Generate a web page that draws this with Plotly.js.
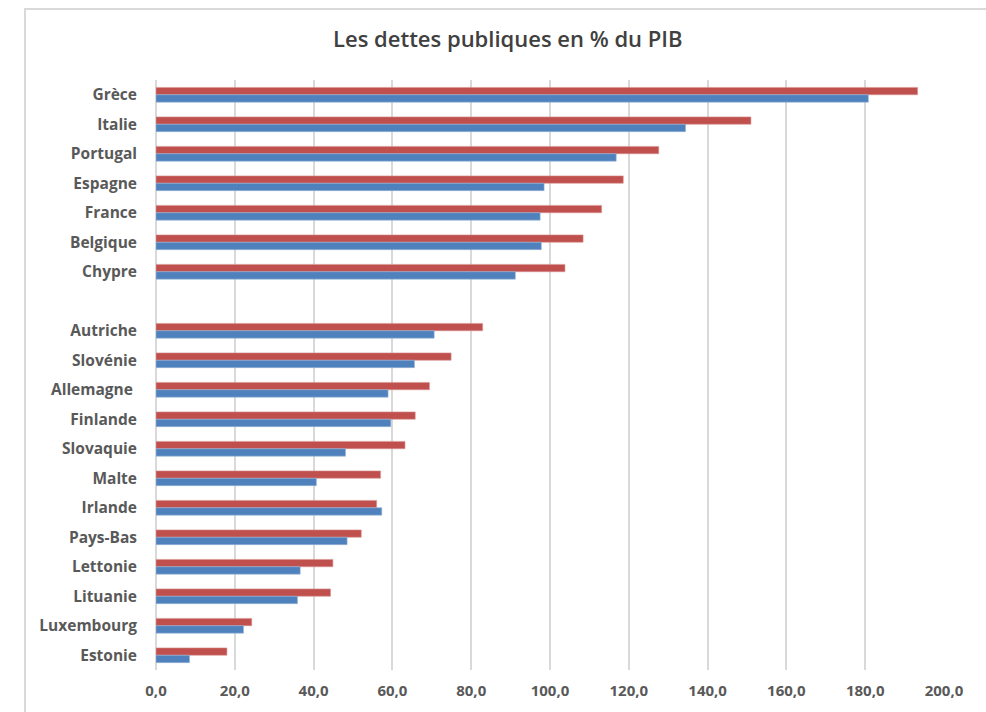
<!DOCTYPE html>
<html>
<head>
<meta charset="utf-8">
<script src="https://cdn.plot.ly/plotly-3.0.1.min.js"></script>
<style>
  html, body { margin: 0; padding: 0; background: #ffffff; overflow: hidden; }
  #frame { position: absolute; left: 24px; top: 8px; width: 1000px; height: 760px;
           border-left: 2px solid #d9d9d9; border-top: 2px solid #d9d9d9; box-sizing: border-box; }
  #chart { position: absolute; left: 0; top: 0; width: 986px; height: 712px; }
</style>
</head>
<body>
<div id="frame"></div>
<div id="chart"></div>
<script>
// Categories (top to bottom); " " is the empty separator row
const countries = ["Grèce", "Italie", "Portugal", "Espagne", "France", "Belgique", "Chypre", " ",
  "Autriche", "Slovénie", "Allemagne ", "Finlande", "Slovaquie", "Malte", "Irlande",
  "Pays-Bas", "Lettonie", "Lituanie", "Luxembourg", "Estonie"];

// Red series (upper bar of each pair)
const redValues = [193.3, 151.0, 127.6, 118.6, 113.1, 108.4, 103.8, null,
  82.9, 74.9, 69.4, 65.8, 63.2, 57.0, 56.0, 52.1, 44.9, 44.3, 24.3, 18.0];

// Blue series (lower bar of each pair)
const blueValues = [180.8, 134.4, 116.8, 98.5, 97.5, 97.8, 91.2, null,
  70.6, 65.6, 58.9, 59.6, 48.1, 40.7, 57.3, 48.5, 36.6, 35.9, 22.2, 8.5];

const xTicks = [0, 20, 40, 60, 80, 100, 120, 140, 160, 180, 200];

const traces = [
  { type: "bar", orientation: "h", name: "red", y: countries, x: redValues,
    marker: { color: "#c0504d", line: { color: "#d99694", width: 0.6 } }, hoverinfo: "x+y" },
  { type: "bar", orientation: "h", name: "blue", y: countries, x: blueValues,
    marker: { color: "#4f81bd", line: { color: "#95b3d7", width: 0.6 } }, hoverinfo: "x+y" }
];

const fontFam = "'Open Sans', Lato, sans-serif";

const layout = {
  width: 986, height: 712,
  paper_bgcolor: "rgba(0,0,0,0)", plot_bgcolor: "rgba(0,0,0,0)",
  margin: { l: 156, r: 42, t: 80, b: 42 },
  showlegend: false,
  barmode: "group", bargap: 0.5, bargroupgap: 0,
  separators: ", ",
  title: { text: "Les dettes publiques en % du PIB", x: 0.515, xanchor: "center", y: 0.945, yanchor: "middle",
           font: { family: fontFam, size: 22, color: "#404040", weight: 600 } },
  xaxis: { range: [0, 200], tickvals: xTicks, tickformat: ".1f", showgrid: true,
           gridcolor: "#d9d9d9", gridwidth: 2, zeroline: true, zerolinecolor: "#d9d9d9", zerolinewidth: 2,
           showline: false, ticks: "", ticklabelstandoff: 10, fixedrange: true,
           tickfont: { family: fontFam, size: 15, color: "#595959", weight: "bold" } },
  yaxis: { type: "category", categoryorder: "array", categoryarray: countries, autorange: "reversed",
           showgrid: false, zeroline: false, showline: false, ticks: "", ticklabelstandoff: 18, fixedrange: true,
           tickfont: { family: fontFam, size: 15.5, color: "#595959", weight: "bold" } }
};

Plotly.newPlot("chart", traces, layout, { displayModeBar: false, staticPlot: true });
</script>
</body>
</html>
